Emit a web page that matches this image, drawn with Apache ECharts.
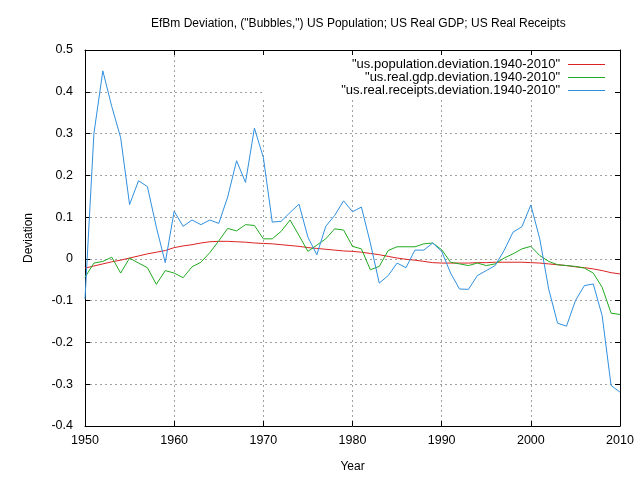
<!DOCTYPE html>
<html>
<head>
<meta charset="utf-8">
<script src="https://cdn.jsdelivr.net/npm/echarts@6/dist/echarts.min.js"></script>
<style>html,body{margin:0;padding:0;background:#fff}#c{width:640px;height:480px}</style>
</head>
<body>
<div id="c"></div>
<script>
var years = [];
for (var y = 1950; y <= 2010; y++) years.push(y);

var populationDev = [
-0.022,-0.017,-0.012,-0.007,-0.003,0.002,0.007,0.012,0.016,0.020,
0.027,0.031,0.034,0.038,0.041,0.042,0.042,0.041,0.040,0.038,
0.037,0.036,0.034,0.032,0.030,0.027,0.025,0.023,0.021,0.019,
0.018,0.016,0.013,0.010,0.006,0.002,-0.001,-0.003,-0.006,-0.009,
-0.010,-0.010,-0.010,-0.010,-0.009,-0.009,-0.008,-0.008,-0.008,-0.008,
-0.009,-0.010,-0.012,-0.014,-0.016,-0.019,-0.021,-0.024,-0.028,-0.033,
-0.036];

var gdpDev = [
-0.044,-0.010,-0.006,0.004,-0.034,0.002,-0.010,-0.021,-0.061,-0.028,
-0.034,-0.045,-0.019,-0.008,0.015,0.043,0.073,0.067,0.082,0.080,
0.048,0.048,0.066,0.093,0.056,0.018,0.033,0.048,0.072,0.069,
0.030,0.024,-0.026,-0.018,0.020,0.029,0.029,0.029,0.036,0.038,
0.022,-0.008,-0.012,-0.016,-0.010,-0.016,-0.012,0.002,0.012,0.024,
0.030,0.008,-0.006,-0.014,-0.016,-0.018,-0.022,-0.034,-0.068,-0.130,
-0.133];

var receiptsDev = [
-0.096,0.300,0.450,0.365,0.290,0.130,0.187,0.173,0.076,-0.009,
0.114,0.078,0.093,0.082,0.093,0.085,0.148,0.235,0.183,0.313,
0.243,0.088,0.090,0.111,0.131,0.052,0.010,0.078,0.104,0.139,
0.113,0.124,0.038,-0.058,-0.040,-0.010,-0.021,0.021,0.021,0.038,
0.018,-0.034,-0.072,-0.073,-0.040,-0.028,-0.016,0.020,0.064,0.077,
0.129,0.048,-0.072,-0.154,-0.161,-0.100,-0.064,-0.060,-0.136,-0.303,
-0.319];

var seriesNames = [
'"us.population.deviation.1940-2010"',
'"us.real.gdp.deviation.1940-2010"',
'"us.real.receipts.deviation.1940-2010"'
];
var titleText = 'EfBm Deviation, ("Bubbles,") US Population; US Real GDP; US Real Receipts';
var xName = 'Year';
var yName = 'Deviation';

function pairs(vals) { return years.map(function (yr, i) { return [yr, vals[i]]; }); }

var FONT = '"Liberation Sans", Arial, sans-serif';
var chart = echarts.init(document.getElementById('c'), null, {renderer: 'canvas'});
var gridLine = {show: true, lineStyle: {color: '#a0a0a0', type: [2, 3], width: 1}};
var fmtY = function (v) { return String(+v.toFixed(1)); };
var fmtX = function (v) { return String(Math.round(v)); };

chart.setOption({
  animation: false,
  backgroundColor: '#fff',
  color: ['#dd2222', '#22aa22', '#3090e0'],
  title: {
    text: titleText, left: 146, top: 13,
    textStyle: {fontFamily: FONT, fontSize: 12, fontWeight: 'normal', color: '#000'}
  },
  grid: {left: 85, right: 20, top: 50, bottom: 54},
  legend: {
    orient: 'vertical', align: 'right', right: 30, top: 53,
    itemWidth: 37, itemHeight: 1.2, itemGap: 0, icon: 'rect',
    data: seriesNames,
    textStyle: {fontFamily: FONT, fontSize: 13, color: '#000', lineHeight: 12.5, padding: [0, 3, 0, 0]},
    z: 5
  },
  graphic: [{
    type: 'rect', z: 1, silent: true,
    shape: {x: 262, y: 51, width: 357, height: 49},
    style: {fill: '#fff'}
  }],
  xAxis: [{
    type: 'value', min: 1950, max: 2010, interval: 10, position: 'bottom',
    name: xName, nameLocation: 'middle', nameGap: 35,
    nameTextStyle: {fontFamily: FONT, fontSize: 12, color: '#000'},
    axisLine: {onZero: false, lineStyle: {color: '#000', width: 1}},
    axisTick: {inside: true, length: 5, lineStyle: {color: '#000'}},
    axisLabel: {fontFamily: FONT, fontSize: 12.5, color: '#000', margin: 8, formatter: fmtX},
    splitLine: gridLine, z: 0
  }, {
    type: 'value', min: 1950, max: 2010, interval: 10, position: 'top',
    axisLine: {show: true, onZero: false, lineStyle: {color: '#000', width: 1}},
    axisTick: {inside: true, length: 5, lineStyle: {color: '#000'}},
    axisLabel: {show: false}, splitLine: {show: false}, z: 3
  }],
  yAxis: [{
    type: 'value', min: -0.4, max: 0.5, interval: 0.1, position: 'left',
    name: yName, nameLocation: 'middle', nameGap: 50, nameRotate: 90,
    nameTextStyle: {fontFamily: FONT, fontSize: 12, color: '#000'},
    axisLine: {show: true, onZero: false, lineStyle: {color: '#000', width: 1}},
    axisTick: {show: true, inside: true, length: 5, lineStyle: {color: '#000'}},
    axisLabel: {fontFamily: FONT, fontSize: 12.5, color: '#000', margin: 12, formatter: fmtY},
    splitLine: gridLine, z: 0
  }, {
    type: 'value', min: -0.4, max: 0.5, interval: 0.1, position: 'right',
    axisLine: {show: true, onZero: false, lineStyle: {color: '#000', width: 1}},
    axisTick: {show: true, inside: true, length: 5, lineStyle: {color: '#000'}},
    axisLabel: {show: false}, splitLine: {show: false}, z: 3
  }],
  series: [
    {name: seriesNames[0], type: 'line', data: pairs(populationDev), showSymbol: false, lineStyle: {width: 1}, z: 2},
    {name: seriesNames[1], type: 'line', data: pairs(gdpDev), showSymbol: false, lineStyle: {width: 1}, z: 2},
    {name: seriesNames[2], type: 'line', data: pairs(receiptsDev), showSymbol: false, lineStyle: {width: 1}, z: 2}
  ]
});
</script>
</body>
</html>
